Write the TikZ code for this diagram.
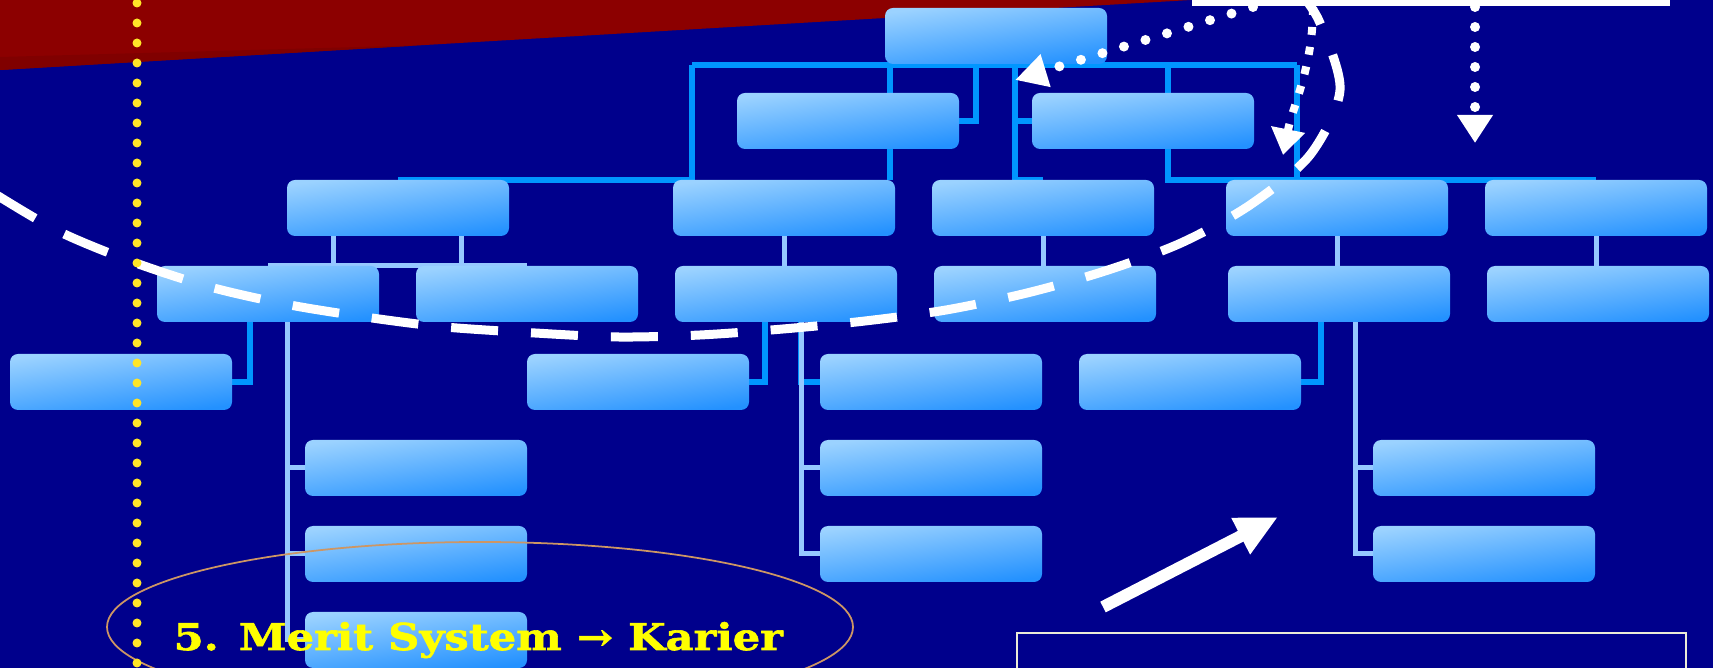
\documentclass[tikz,border=0pt]{standalone}
\usepackage{fontspec}
\usepackage{xcolor}
\usepackage{tikz}
\usetikzlibrary{positioning, arrows.meta, backgrounds, calc}
\newfontfamily\meritfont[FakeStretch=1.17, FakeBold=1.6]{DejaVu Serif Bold}
\definecolor{mynavy}{RGB}{0,0,140}
\definecolor{myred}{RGB}{140,0,0}
\definecolor{mydarkred}{RGB}{128,0,0}
\definecolor{boxlight}{RGB}{155,210,255}
\definecolor{boxdark}{RGB}{35,145,255}
\definecolor{linebright}{RGB}{0,150,255}
\definecolor{linepale}{RGB}{150,200,255}
\definecolor{myyellow}{RGB}{255,255,0}
\definecolor{dotyellow}{RGB}{255,230,40}
\definecolor{ovalline}{RGB}{205,150,100}
\definecolor{noteline}{RGB}{235,235,215}
\tikzset{
  orgbox/.style={rectangle, rounded corners=0.08cm, minimum width=2.22cm,
    minimum height=0.56cm, inner sep=0pt, outer sep=0pt,
    top color=boxlight, middle color=boxlight, bottom color=boxdark,
    shading angle=8},
  brightline/.style={linebright, line width=0.06cm},
  paleline/.style={linepale, line width=0.05cm},
  bigdash/.style={white, line width=0.09cm, dash pattern=on 0.47cm off 0.33cm},
  rounddots/.style={white, line width=0.10cm, line cap=round,
    dash pattern=on 0pt off 0.225cm},
  squaredots/.style={white, line width=0.08cm, dash pattern=on 0.08cm off 0.12cm},
  yellowdots/.style={dotyellow, line width=0.09cm, line cap=round,
    dash pattern=on 0pt off 0.20cm},
  whitearrow/.style={white, line width=0.12cm,
    -{Triangle[length=0.42cm, width=0.38cm]}}
}

\begin{document}
\begin{tikzpicture}
  \useasboundingbox (0,0) rectangle (17.13,-6.68);

  % org chart boxes
  \node[orgbox, anchor=north west] (head) at (8.85,-0.08) {};
  \node[orgbox, anchor=north west] (depA) at (7.37,-0.93) {};
  \node[orgbox, right=0.73cm of depA] (depB) {};
  \node[orgbox, anchor=north west] (divA) at (2.87,-1.80) {};
  \node[orgbox, right=1.64cm of divA] (divB) {};
  \node[orgbox, right=0.37cm of divB] (divC) {};
  \node[orgbox, right=0.72cm of divC] (divD) {};
  \node[orgbox, right=0.37cm of divD] (divE) {};
  \node[orgbox, anchor=north west] (secA) at (1.57,-2.66) {};
  \node[orgbox, right=0.37cm of secA] (secB) {};
  \node[orgbox, right=0.37cm of secB] (secC) {};
  \node[orgbox, right=0.37cm of secC] (secD) {};
  \node[orgbox, right=0.72cm of secD] (secE) {};
  \node[orgbox, right=0.37cm of secE] (secF) {};
  \node[orgbox, anchor=north west] (unitA) at (0.10,-3.54) {};
  \node[orgbox, right=2.95cm of unitA] (unitB) {};
  \node[orgbox, right=0.71cm of unitB] (unitC) {};
  \node[orgbox, right=0.37cm of unitC] (unitD) {};
  \node[orgbox, anchor=north west] (stfA1) at (3.05,-4.40) {};
  \node[orgbox, right=2.93cm of stfA1] (stfC1) {};
  \node[orgbox, right=3.31cm of stfC1] (stfE1) {};
  \node[orgbox, below=0.30cm of stfA1] (stfA2) {};
  \node[orgbox, below=0.30cm of stfC1] (stfC2) {};
  \node[orgbox, below=0.30cm of stfE1] (stfE2) {};
  \node[orgbox, below=0.30cm of stfA2] (stfA3) {};

  % white boxes
  \node[fill=white, inner sep=0pt, minimum width=4.78cm, minimum height=0.30cm,
    anchor=south west] (caption) at (11.91,-0.07) {};
  \node[draw=noteline, line width=0.02cm, inner sep=0pt, minimum width=6.69cm,
    minimum height=0.60cm, anchor=north west] (note) at (10.16,-6.32) {};

  \begin{scope}[on background layer]
    \fill[mynavy] (0,0) rectangle (17.13,-6.68);
    \fill[myred] (0,0.1) -- (11.91,0.1) -- (11.91,0) -- (0,-0.70) -- cycle;
    \fill[mydarkred] (0,-0.57) -- (4.2,-0.453) -- (0,-0.70) -- cycle;

    \coordinate (busW) at (6.92,-0.65);
    \coordinate (busE) at (12.97,-0.65);
    \draw[brightline] (busW) -- (busE);
    \draw[brightline] (divA.north) -| (busW);
    \draw[brightline] ([xshift=-0.05cm]divB.north east) -- ([xshift=-0.05cm]divB.north east |- busW);
    \draw[brightline] (depA.east) -| ([xshift=0.17cm]depA.east |- busW);
    \draw[brightline] (depB.west) -| ([xshift=-0.17cm]depB.west |- busW);
    \draw[brightline] (divC.north) -| ([xshift=-0.17cm]depB.west);
    \draw[brightline] (divE.north) -| ([xshift=-0.58cm]divD.north west |- busW);
    \draw[brightline] (divD.north) -| (busE);
    \draw[brightline] (unitA.east) -| ([xshift=-0.18cm]secA.south);
    \draw[brightline] (unitB.east) -| ([xshift=-0.21cm]secC.south);
    \draw[brightline] ([xshift=0.15cm]secC.south) |- (unitC.west);
    \draw[brightline] (unitD.east) -| ([xshift=-0.18cm]secE.south);

    \draw[paleline] (secA.north) -- (secB.north);
    \draw[paleline] ([xshift=-0.65cm]divA.south) |- (secA.north);
    \draw[paleline] ([xshift=0.63cm]divA.south) |- (secB.north);
    \draw[paleline] (divB.south) -- (divB.south |- secC.north);
    \draw[paleline] (divC.south) -- (divC.south |- secD.north);
    \draw[paleline] (divD.south) -- (divD.south |- secE.north);
    \draw[paleline] (divE.south) -- (divE.south |- secF.north);
    \draw[paleline] ([xshift=0.19cm]secA.south) |- (stfA1.west);
    \draw[paleline] ([xshift=0.19cm]secA.south) |- (stfA2.west);
    \draw[paleline] ([xshift=0.19cm]secA.south) |- (stfA3.west);
    \draw[paleline] ([xshift=0.15cm]secC.south) |- (stfC1.west);
    \draw[paleline] ([xshift=0.15cm]secC.south) |- (stfC2.west);
    \draw[paleline] ([xshift=0.16cm]secE.south) |- (stfE1.west);
    \draw[paleline] ([xshift=0.16cm]secE.south) |- (stfE2.west);
  \end{scope}

  % overlays
  \draw[ovalline, line width=0.5pt] (4.80,-6.27) ellipse [x radius=3.73, y radius=0.85];
  \draw[bigdash] plot[smooth] coordinates {(-0.05,-1.94) (0.60,-2.32) (1.33,-2.62)
    (2.10,-2.87) (2.90,-3.05) (3.72,-3.18) (4.45,-3.27) (5.35,-3.33) (6.18,-3.37)
    (7.00,-3.35) (7.83,-3.29) (8.65,-3.21) (9.46,-3.10) (10.27,-2.93) (11.05,-2.71)
    (11.81,-2.43) (12.50,-2.05) (13.10,-1.55) (13.40,-0.90) (13.20,-0.23) (13.02,0.05)};
  \draw[yellowdots] (1.37,-0.03) -- (1.37,-6.70);

  \coordinate (tipA) at (10.15,-0.80);
  \coordinate (tipB) at (12.83,-1.55);
  \coordinate (tipC) at (14.75,-1.43);
  \draw[rounddots, -{Triangle[length=0.32cm, width=0.32cm]}]
    ([xshift=0.62cm]caption.south west) -- (tipA);
  \draw[squaredots, -{Triangle[length=0.26cm, width=0.33cm]}]
    ([xshift=1.22cm]caption.south west) .. controls +(0,-0.6) and +(0.1,0.5) .. (tipB);
  \draw[rounddots, dash pattern=on 0pt off 0.20cm, -{Triangle[length=0.28cm, width=0.34cm]}]
    ([xshift=2.84cm]caption.south west) -- (tipC);

  \coordinate (arrTail) at (11.03,-6.07);
  \coordinate (arrTip) at (12.78,-5.17);
  \draw[whitearrow] (arrTail) -- (arrTip);

  \node[anchor=base west, inner sep=0pt, text=myyellow,
    font=\meritfont\fontsize{10.5pt}{12pt}\selectfont] (merit) at (1.73,-6.50)
    {5. Merit System → Karier};
\end{tikzpicture}
\end{document}
